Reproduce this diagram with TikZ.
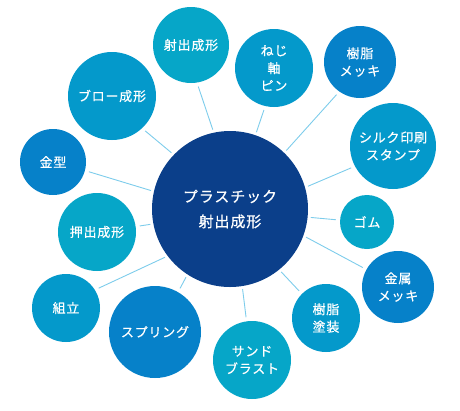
\documentclass[tikz,border=0pt]{standalone}
\usepackage{fontspec}
\newfontfamily\jpfont[LetterSpace=6,FakeBold=0.6]{Noto Sans CJK JP}
\definecolor{navy}{HTML}{0B3F8A}
\definecolor{teal}{HTML}{06A6C8}
\definecolor{midblue}{HTML}{0499CB}
\definecolor{deepblue}{HTML}{0681C9}
\definecolor{linecol}{HTML}{7DCCEB}
\tikzset{
  bubble/.style={circle, inner sep=0pt, text=white, align=center,
    font=\jpfont\fontsize{13}{17.5}\selectfont},
  hub/.style={bubble, fill=navy, font=\jpfont\fontsize{15}{25}\selectfont},
  conn/.style={draw=linecol, line width=0.9pt, shorten <=4pt, shorten >=3pt}
}
\begin{document}
\begin{tikzpicture}[x=1pt,y=-1pt]
\useasboundingbox (0,0) rectangle (460,410);
\node[hub, minimum size=156] (c) at (230,209) {プラスチック\\射出成形};
\node[bubble, fill=teal, minimum size=76] (s1) at (191,45) {射出成形};
\node[bubble, fill=midblue, minimum size=78] (s2) at (274,68) {ねじ\\軸\\ピン};
\node[bubble, fill=deepblue, minimum size=72] (s3) at (360,62) {樹脂\\メッキ};
\node[bubble, fill=midblue, minimum size=86] (s4) at (393,146) {シルク印刷\\スタンプ};
\node[bubble, fill=teal, minimum size=54] (s5) at (367,222) {ゴム};
\node[bubble, fill=deepblue, minimum size=72] (s6) at (398,287) {金属\\メッキ};
\node[bubble, fill=midblue, minimum size=68] (s7) at (326,318) {樹脂\\塗装};
\node[bubble, fill=teal, minimum size=78] (s8) at (252,360) {サンド\\ブラスト};
\node[bubble, fill=deepblue, minimum size=92] (s9) at (155,332) {スプリング};
\node[bubble, fill=midblue, minimum size=68] (s10) at (66,308) {組立};
\node[bubble, fill=teal, minimum size=78] (s11) at (97,232) {押出成形};
\node[bubble, fill=deepblue, minimum size=66] (s12) at (53,162) {金型};
\node[bubble, fill=midblue, minimum size=88] (s13) at (112,96) {ブロー成形};
\draw[conn] (s1.-81) -- (c.102);
\draw[conn] (s2.-103) -- (c.71);
\draw[conn] (s3.-125) -- (c.46);
\draw[conn] (s4.-152) -- (c.16);
\draw[conn] (s5.176) -- (c.-6);
\draw[conn] (s6.151) -- (c.-20);
\draw[conn] (s7.135) -- (c.-51);
\draw[conn] (s8.98) -- (c.-81);
\draw[conn] (s9.60) -- (c.-123);
\draw[conn] (s10.32) -- (c.-143);
\draw[conn] (s11.8) -- (c.-169);
\draw[conn] (s12.-15) -- (c.167);
\draw[conn] (s13.-47) -- (c.136);
\end{tikzpicture}
\end{document}
